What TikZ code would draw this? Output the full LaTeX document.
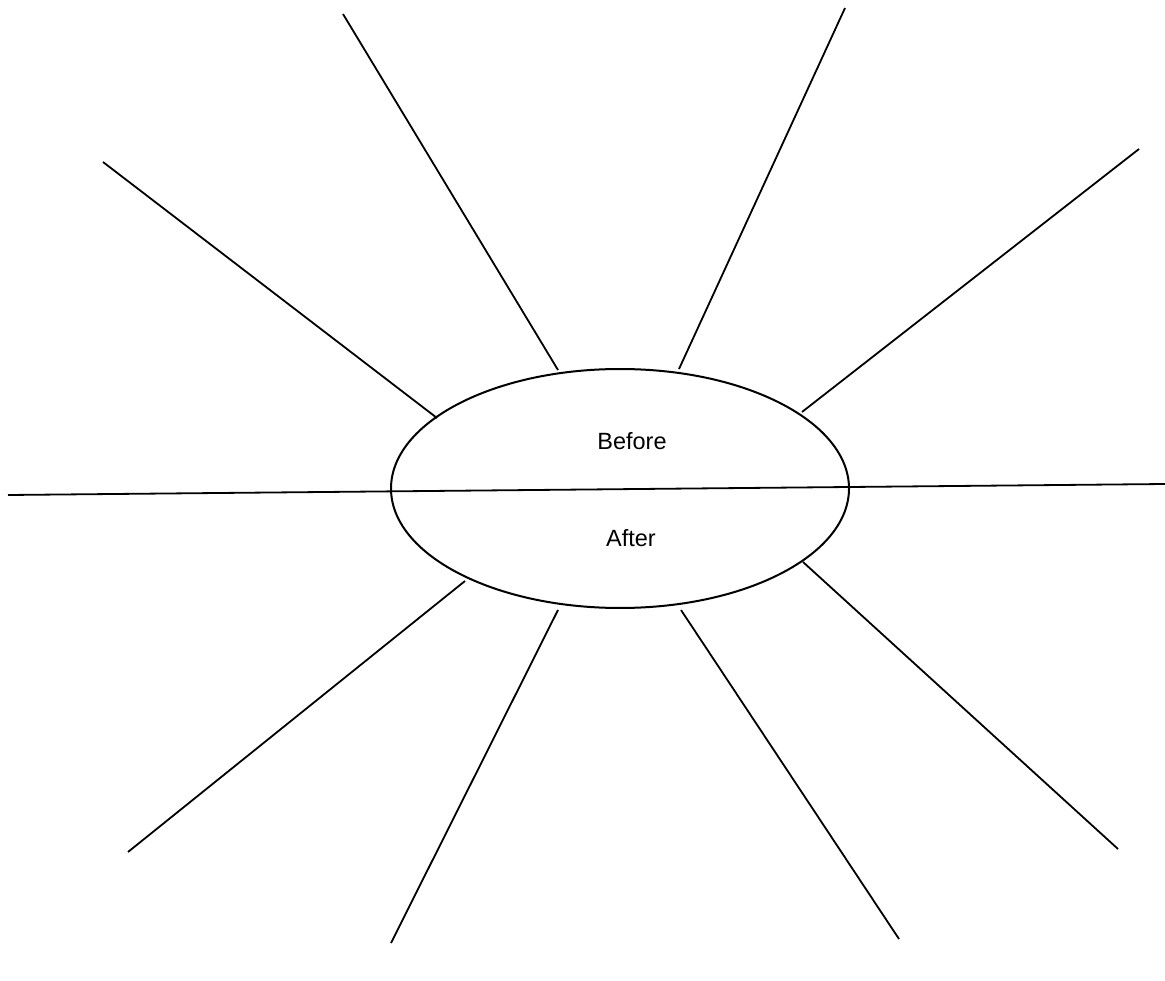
\documentclass[tikz,border=0pt]{standalone}
\usepackage{fontspec}
\setmainfont{Liberation Sans}
\usetikzlibrary{shapes.geometric}
\begin{document}
\begin{tikzpicture}[x=1pt,y=-1pt,
  ray/.style={draw=black,line width=1.8pt},
  label/.style={font=\fontsize{23.5}{26}\selectfont,text=black,inner sep=0pt}]
\useasboundingbox (0,0) rectangle (1165,981);
\node[ellipse,draw=black,line width=2pt,minimum width=458pt,minimum height=239pt,inner sep=0pt] (e) at (620,488.5) {};
\node[label] (before) at (632,441) {Before};
\node[label] (after) at (631,538) {After};
% horizontal line
\coordinate (hl) at (8,495);
\coordinate (hr) at (1165,484);
\draw[ray] (hl) -- (hr);
% rays: outer end, inner end
\coordinate (o1) at (343,14);   \coordinate (i1) at (558,370);
\coordinate (o2) at (845,8);    \coordinate (i2) at (679,369);
\coordinate (o3) at (103,162);  \coordinate (i3) at (437,418);
\coordinate (o4) at (1139,149); \coordinate (i4) at (802,412);
\coordinate (o5) at (128,852);  \coordinate (i5) at (465,581);
\coordinate (o6) at (1118,849); \coordinate (i6) at (803,562);
\coordinate (o7) at (391,943);  \coordinate (i7) at (558,610);
\coordinate (o8) at (899,939);  \coordinate (i8) at (681,610);
\foreach \k in {1,...,8} {\draw[ray] (o\k) -- (i\k);}
\end{tikzpicture}
\end{document}
